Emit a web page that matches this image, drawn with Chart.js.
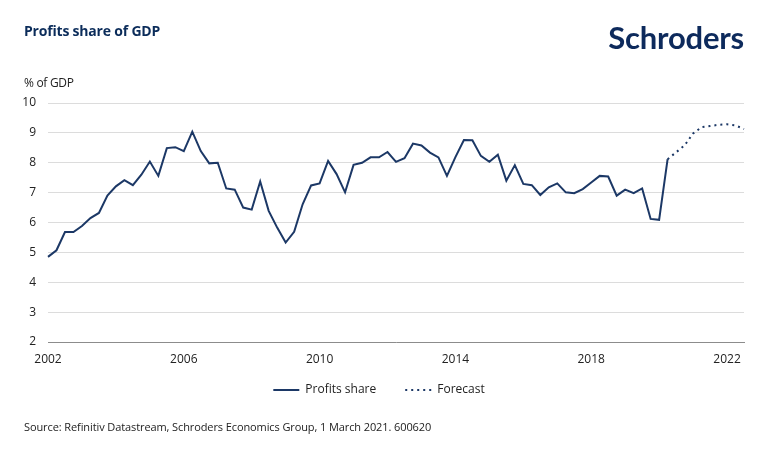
<!DOCTYPE html>
<html>
<head>
<meta charset="utf-8">
<script src="https://cdn.jsdelivr.net/npm/chart.js@4.4.1/dist/chart.umd.min.js"></script>
<style>
  body { margin: 0; background: #fff; }
  #wrap { position: relative; width: 770px; height: 454px; overflow: hidden; font-family: "Open Sans", sans-serif; }
  #wrap canvas { position: absolute; left: 0; top: 0; }
  .txt { position: absolute; line-height: 1; white-space: nowrap; }
  #title { left: 24px; top: 24px; font-size: 14px; font-weight: 700; color: #0b2c5a; letter-spacing: -0.2px; }
  #logo { right: 26px; top: 22px; font-family: Lato, sans-serif; font-size: 31px; font-weight: 700; color: #0d2a5c; letter-spacing: -0.2px; }
  #unit { left: 24px; top: 77px; font-size: 12px; color: #222; letter-spacing: -0.3px; }
  #source { left: 24px; top: 421px; font-size: 11px; color: #222; letter-spacing: -0.1px; }
</style>
</head>
<body>
<div id="wrap">
  <canvas id="chart" width="770" height="454"></canvas>
  <div class="txt" id="title">Profits share of GDP</div>
  <div class="txt" id="logo">Schroders</div>
  <div class="txt" id="unit">% of GDP</div>
  <div class="txt" id="source">Source: Refinitiv Datastream, Schroders Economics Group, 1 March 2021. 600620</div>
</div>
<script>
// quarterly, 2002 Q1 onwards
const startYear = 2002;
const yearTicks = ['2002', '2006', '2010', '2014', '2018', '2022'];

const profitsShare = [
  4.85, 5.07, 5.68, 5.68, 5.88, 6.15, 6.32, 6.90,
  7.21, 7.42, 7.25, 7.60, 8.04, 7.56, 8.49, 8.52,
  8.39, 9.04, 8.39, 7.98, 8.00, 7.14, 7.10, 6.50,
  6.43, 7.37, 6.39, 5.83, 5.33, 5.69, 6.61, 7.24,
  7.31, 8.06, 7.62, 7.01, 7.93, 8.00, 8.18, 8.18,
  8.36, 8.03, 8.15, 8.64, 8.58, 8.34, 8.18, 7.56,
  8.19, 8.76, 8.75, 8.23, 8.03, 8.27, 7.40, 7.92,
  7.29, 7.25, 6.92, 7.18, 7.31, 7.01, 6.98, 7.12,
  7.34, 7.56, 7.54, 6.90, 7.10, 6.98, 7.14, 6.12,
  6.09, 8.12
];

// forecast picks up at the last actual quarter
const forecast = [8.12, 8.35, 8.58, 8.98, 9.19, 9.23, 9.27, 9.29, 9.25, 9.13];

const nQuarters = profitsShare.length + forecast.length - 1;
const quarters = [];
for (let i = 0; i < nQuarters; i++) {
  quarters.push((startYear + Math.floor(i / 4)) + ' Q' + (i % 4 + 1));
}

const actualData = quarters.map((q, i) => i < profitsShare.length ? profitsShare[i] : null);
const forecastData = quarters.map((q, i) => {
  const k = i - (profitsShare.length - 1);
  return k >= 0 ? forecast[k] : null;
});

const navy = '#1c3866';
const textColor = '#222';

// legend needs a wide gap between items but sits close under the axis labels
const legendShift = {
  id: 'legendShift',
  afterLayout(chart) {
    chart.legend.top -= 14;
    chart.legend.bottom -= 14;
  }
};

new Chart(document.getElementById('chart'), {
  type: 'line',
  data: {
    labels: quarters,
    datasets: [
      {
        label: 'Profits share',
        data: actualData,
        borderColor: navy,
        backgroundColor: navy,
        borderWidth: 2,
        pointRadius: 0,
        tension: 0
      },
      {
        label: 'Forecast',
        data: forecastData,
        borderColor: navy,
        backgroundColor: navy,
        borderWidth: 2,
        borderDash: [2, 4],
        pointRadius: 0,
        tension: 0
      }
    ]
  },
  plugins: [legendShift],
  options: {
    responsive: false,
    animation: false,
    devicePixelRatio: 1,
    layout: { padding: { left: 14, right: 26, top: 103, bottom: 34 } },
    plugins: {
      tooltip: { enabled: false },
      legend: {
        position: 'bottom',
        labels: {
          usePointStyle: true,
          pointStyle: 'line',
          pointStyleWidth: 26,
          padding: 29,
          color: textColor,
          font: { family: 'Open Sans', size: 12 },
          generateLabels: chart => {
            const items = Chart.defaults.plugins.legend.labels.generateLabels(chart);
            items.forEach(it => {
              const ds = chart.data.datasets[it.datasetIndex];
              it.lineDash = ds.borderDash || [];
              it.lineWidth = 2;
              it.strokeStyle = ds.borderColor;
            });
            return items;
          }
        }
      }
    },
    scales: {
      x: {
        grid: { display: false, drawTicks: false },
        border: { display: true, color: '#8c8c8c', width: 1 },
        afterFit: s => { s.height = 27; },
        ticks: {
          autoSkip: false,
          maxRotation: 0,
          minRotation: 0,
          padding: 10,
          color: textColor,
          font: { family: 'Open Sans', size: 12 },
          callback: function (v, i) {
            const q = quarters[i];
            if (!q.endsWith('Q1')) return null;
            const y = q.slice(0, 4);
            return yearTicks.includes(y) ? y : null;
          }
        }
      },
      y: {
        min: 2,
        max: 10,
        grid: { color: '#dcdcdc', lineWidth: 1, drawTicks: false },
        border: { display: false },
        afterFit: s => { s.width = 34; },
        ticks: {
          stepSize: 1,
          padding: 12,
          color: textColor,
          font: { family: 'Open Sans', size: 12 }
        }
      }
    }
  }
});
</script>
</body>
</html>
